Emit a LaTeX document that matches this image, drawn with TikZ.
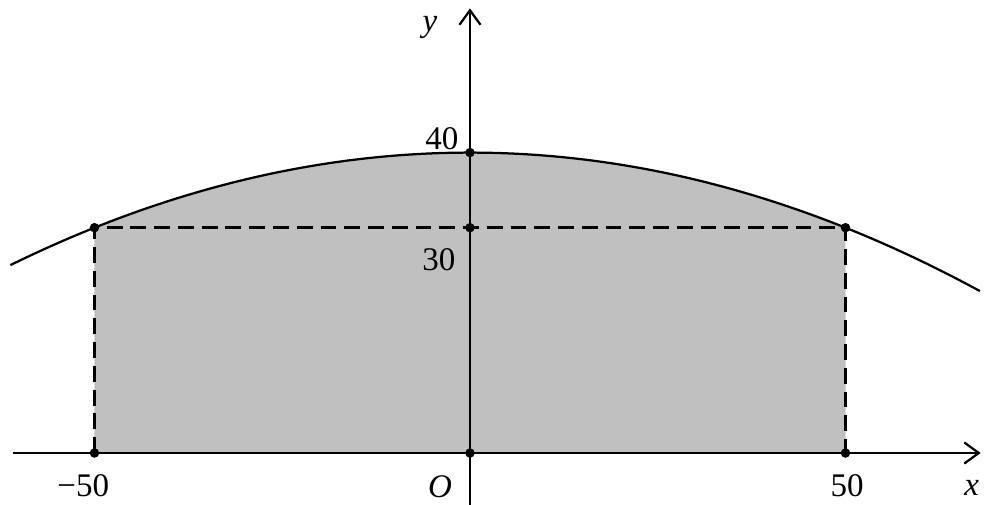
\documentclass[tikz,border=0pt]{standalone}
\usepackage{fontspec}
\setmainfont{Liberation Serif}
\usetikzlibrary{arrows.meta}
\definecolor{regiongray}{RGB}{192,192,192}
\tikzset{
  axisline/.style={line width=0.85pt, -{Straight Barb[length=5.5pt,width=8pt,line width=0.85pt]}},
  curveline/.style={line width=0.85pt},
  dashline/.style={line width=1pt, dash pattern=on 6pt off 3pt},
  dotmark/.style={circle, fill=black, inner sep=0pt, minimum size=3.6pt},
  lbl/.style={font=\fontsize{12.5}{14}\selectfont, inner sep=0pt}
}
\begin{document}
\begin{tikzpicture}[x=0.1cm,y=0.1cm]
\useasboundingbox (-62.58,-6.92) rectangle (68.44,60.32);
% shaded region
\fill[regiongray] (-50,0) -- plot[domain=-50:50,samples=100] (\x,{40-\x*\x/250}) -- (50,0) -- cycle;
% named points
\coordinate (xl) at (-60.85,0);
\coordinate (xr) at (68.0,0);
\coordinate (yb) at (0,-7.2);
\coordinate (yt) at (0,59.2);
\node[dotmark] (O) at (0,0) {};
\node[dotmark] (A) at (-50,0) {};
\node[dotmark] (B) at (50,0) {};
\node[dotmark] (C) at (50,30) {};
\node[dotmark] (D) at (-50,30) {};
\node[dotmark] (M) at (0,30) {};
\node[dotmark] (T) at (0,40) {};
% curve
\draw[curveline] plot[domain=-61.2:67.9,samples=150] (\x,{40-\x*\x/250});
% dashed rectangle
\draw[dashline] (A.center) -- (D.center) -- (C.center) -- (B.center);
% axes
\draw[axisline] (xl) -- (xr);
\draw[axisline] (yb) -- (yt);
% labels
\node[lbl] (ly) at (-5.33,56.6) {\textit{y}};
\node[lbl] (l40) at (-3.73,41.9) {40};
\node[lbl] (l30) at (-4.13,25.7) {30};
\node[lbl] (lm50) at (-51.5,-4.3) {−50};
\node[lbl] (l50) at (50.2,-4.3) {50};
\node[lbl] (lx) at (66.8,-4.7) {\textit{x}};
\node[lbl] (lO) at (-4.0,-4.5) {\textit{O}};
\end{tikzpicture}
\end{document}
